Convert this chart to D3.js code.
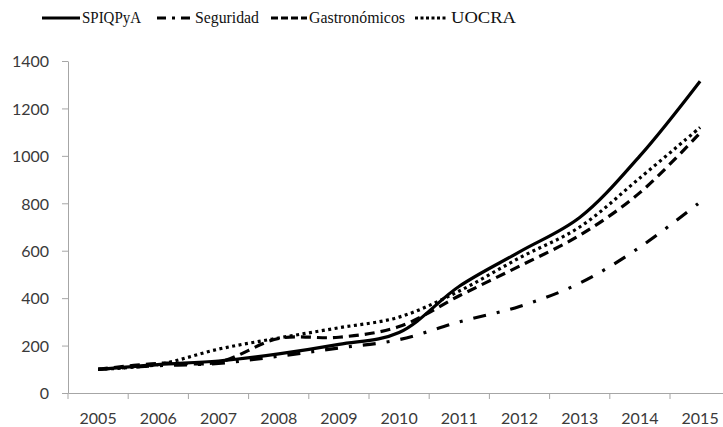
<!DOCTYPE html>
<html>
<head>
<meta charset="utf-8">
<script src="https://cdn.jsdelivr.net/npm/d3@7"></script>
<style>
  body { margin: 0; background: #fff; }
  .axis text { font-family: Lato, "DejaVu Sans", sans-serif; font-size: 16px; fill: #3a3a3a; }
  .axis path, .axis line { stroke: #a6a6a6; }
</style>
</head>
<body>
<script>
// chart values
var years = ["2005", "2006", "2007", "2008", "2009", "2010", "2011", "2012", "2013", "2014", "2015"];
var spiqpya = [100, 120, 135, 165, 205, 255, 450, 595, 740, 1000, 1315];
var seguridad = [100, 115, 125, 155, 190, 225, 300, 365, 463, 615, 805];
var gastronomicos = [100, 125, 130, 230, 235, 280, 410, 535, 665, 845, 1097];
var uocra = [100, 120, 185, 232, 275, 320, 430, 570, 700, 907, 1120];
var yTicks = [0, 200, 400, 600, 800, 1000, 1200, 1400];

var seriesNames = ["SPIQPyA", "Seguridad", "Gastronómicos", "UOCRA"];
var seriesValues = [spiqpya, seguridad, gastronomicos, uocra];
var dashes = ["none", "13,11,3,11", "10,6", "3,3.5"];

var width = 723, height = 427;
var margin = { top: 61, left: 68, bottom: 34 };

var svg = d3.select("body").append("svg")
    .attr("width", width)
    .attr("height", height);

// Excel style: categories in bands, ticks between them
var x = d3.scaleBand()
    .domain(years)
    .range([margin.left, margin.left + 60.2 * years.length]);

var y = d3.scaleLinear()
    .domain([0, 1400])
    .range([height - margin.bottom, margin.top]);

// y axis
svg.append("g")
    .attr("class", "axis")
    .attr("transform", "translate(" + margin.left + ",0)")
    .call(d3.axisLeft(y).tickValues(yTicks).tickFormat(d3.format("d")).tickSize(6).tickSizeOuter(0).tickPadding(13))
    .call(g => g.selectAll("text").attr("dy", "0.36em"));

// x axis (labels only), tick marks at band edges
var xg = svg.append("g")
    .attr("class", "axis")
    .attr("transform", "translate(0," + y(0) + ")")
    .call(d3.axisBottom(x).tickSize(0).tickSizeOuter(0).tickPadding(20));

xg.selectAll(".edge")
    .data(years.concat(["end"]))
    .enter().append("line")
    .attr("class", "edge")
    .attr("x1", function (d, i) { return i < years.length ? x(d) : x.range()[1]; })
    .attr("x2", function (d, i) { return i < years.length ? x(d) : x.range()[1]; })
    .attr("y1", 0)
    .attr("y2", 6);

// lines
var line = d3.line()
    .x(function (d, i) { return x(years[i]) + x.bandwidth() / 2; })
    .y(function (d) { return y(d); })
    .curve(d3.curveCatmullRom.alpha(0.5));

svg.append("g").selectAll("path")
    .data(seriesValues)
    .enter().append("path")
    .attr("d", line)
    .attr("fill", "none")
    .attr("stroke", "#000")
    .attr("stroke-width", 3.2)
    .attr("stroke-dasharray", function (d, i) { return dashes[i]; });

// legend
var legendX = [42, 157, 271, 415];
var legendW = [38, 36, 36, 31];
var labelW = [59, 64, 96, 65]; // widths of the legend names in the picture
var legend = svg.selectAll(".legend")
    .data(seriesNames)
    .enter().append("g")
    .attr("class", "legend")
    .attr("transform", function (d, i) { return "translate(" + legendX[i] + ",18)"; });

legend.append("line")
    .attr("x1", 0)
    .attr("x2", function (d, i) { return legendW[i]; })
    .attr("stroke", "#000")
    .attr("stroke-width", 3.2)
    .attr("stroke-dasharray", function (d, i) { return dashes[i] == "none" ? null : (i == 1 ? "9,6,3,6" : (i == 2 ? "7,3" : "3,2.5")); });

legend.append("text")
    .attr("x", function (d, i) { return legendW[i] + (i == 3 ? 5 : 2); })
    .attr("dy", "0.33em")
    .attr("textLength", function (d, i) { return labelW[i]; })
    .attr("lengthAdjust", "spacingAndGlyphs")
    .style("font-family", "'Liberation Serif', Tinos, 'Times New Roman', serif")
    .style("font-size", "16px")
    .style("fill", "#111")
    .text(function (d) { return d; });
</script>
</body>
</html>
